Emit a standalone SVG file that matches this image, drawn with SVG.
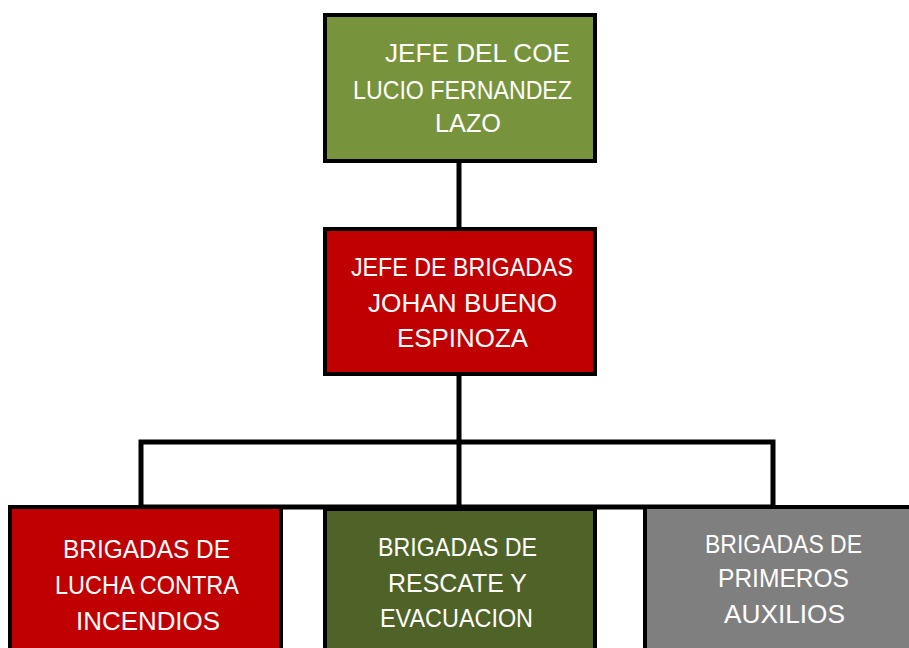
<svg xmlns="http://www.w3.org/2000/svg" width="909" height="648" viewBox="0 0 909 648">
<style>
.box{stroke:#000;stroke-width:4}
.t{fill:#fff;font-family:"Liberation Sans",Arial,sans-serif;font-size:26px}
.c{fill:none;stroke:#000;stroke-width:5}
</style>
<rect width="909" height="648" fill="#fff"/>
<g id="connectors">
<line class="c" x1="459" y1="160" x2="459" y2="230"/>
<line class="c" x1="459" y1="374" x2="459" y2="508"/>
<path class="c" d="M141,507 V442 H773 V507 H141"/>
</g>
<g id="jefe-coe">
<rect class="box" x="325" y="15" width="270" height="146" fill="#77933C"/>
<text class="t" x="385" y="62" textLength="185" lengthAdjust="spacingAndGlyphs">JEFE DEL COE</text>
<text class="t" x="353" y="99" textLength="219" lengthAdjust="spacingAndGlyphs">LUCIO FERNANDEZ</text>
<text class="t" x="435" y="132" textLength="66" lengthAdjust="spacingAndGlyphs">LAZO</text>
</g>
<g id="jefe-brigadas">
<rect class="box" x="325" y="229" width="270" height="145" fill="#C00000"/>
<text class="t" x="351" y="276" textLength="222" lengthAdjust="spacingAndGlyphs">JEFE DE BRIGADAS</text>
<text class="t" x="368" y="312" textLength="189" lengthAdjust="spacingAndGlyphs">JOHAN BUENO</text>
<text class="t" x="397" y="347" textLength="131" lengthAdjust="spacingAndGlyphs">ESPINOZA</text>
</g>
<g id="lucha-incendios">
<rect class="box" x="10" y="507" width="271" height="160" fill="#C00000"/>
<text class="t" x="63" y="558" textLength="167" lengthAdjust="spacingAndGlyphs">BRIGADAS DE</text>
<text class="t" x="55" y="594" textLength="184" lengthAdjust="spacingAndGlyphs">LUCHA CONTRA</text>
<text class="t" x="76" y="630" textLength="144" lengthAdjust="spacingAndGlyphs">INCENDIOS</text>
</g>
<g id="rescate-evacuacion">
<rect class="box" x="325" y="509" width="270" height="160" fill="#4F6228"/>
<text class="t" x="378" y="556" textLength="159" lengthAdjust="spacingAndGlyphs">BRIGADAS DE</text>
<text class="t" x="388" y="592" textLength="139" lengthAdjust="spacingAndGlyphs">RESCATE Y</text>
<text class="t" x="380" y="627" textLength="153" lengthAdjust="spacingAndGlyphs">EVACUACION</text>
</g>
<g id="primeros-auxilios">
<rect class="box" x="645" y="507" width="300" height="160" fill="#7F7F7F"/>
<text class="t" x="705" y="553" textLength="157" lengthAdjust="spacingAndGlyphs">BRIGADAS DE</text>
<text class="t" x="718" y="587" textLength="131" lengthAdjust="spacingAndGlyphs">PRIMEROS</text>
<text class="t" x="724" y="623" textLength="121" lengthAdjust="spacingAndGlyphs">AUXILIOS</text>
</g>
</svg>
